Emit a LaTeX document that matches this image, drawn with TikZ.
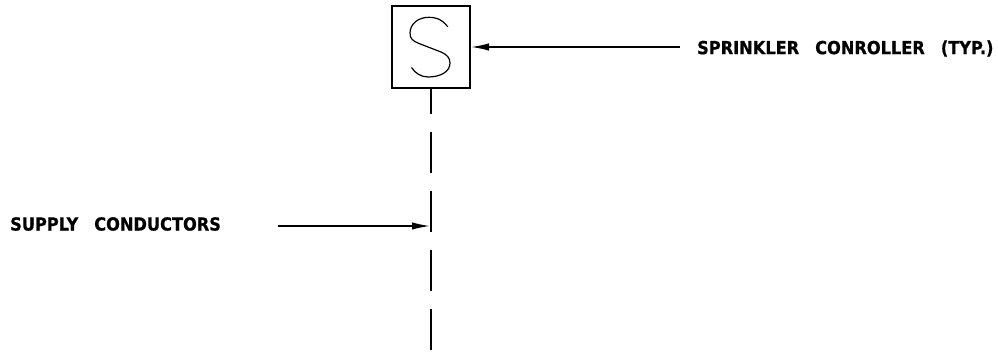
\documentclass[tikz,border=0pt]{standalone}
\usepackage{fontspec}
\newfontfamily\cadfont[FakeStretch=0.9,FakeBold=0.6]{DejaVu Sans Bold}
\usetikzlibrary{arrows.meta}
\newcommand{\wsp}{\hspace{16pt}}
\tikzset{
  x=1pt,y=-1pt,
  lbl/.style={inner sep=0pt,font=\cadfont\fontsize{18}{18}\selectfont},
  leader/.style={line width=1.6pt,-{Latex[length=18pt,width=7.5pt]}},
  ctrl/.style={draw,line width=2pt,minimum width=78pt,minimum height=82pt,inner sep=0pt},
  wire/.style={line width=2pt,dash pattern=on 25pt off 18pt on 41pt off 18pt on 41pt off 18pt on 41pt off 18pt on 41pt off 18pt on 41pt}
}
\begin{document}
\begin{tikzpicture}
\useasboundingbox (0,0) rectangle (998,352);
\node[ctrl] (box) at (431,47) {};
\draw[line width=1.2pt,line cap=round] (447.7,26.7) .. controls (441,18) and (434,17.3) .. (429,17.3)
  .. controls (418,17.3) and (410,24) .. (410,33)
  .. controls (410,39) and (413,41) .. (419,43.5)
  -- (441,52) .. controls (447,54.5) and (450,58) .. (450,63)
  .. controls (450,72) and (440,77) .. (428,77)
  .. controls (421,77) and (415,73) .. (411.7,67.7);
\node[lbl,anchor=west] (ctrlabel) at (697,48.5) {SPRINKLER\wsp CONROLLER\wsp (TYP.)};
\node[lbl,anchor=west] (supply) at (10,224) {SUPPLY\wsp CONDUCTORS};
\coordinate (wireend) at (431,350);
\coordinate (feed) at (430,226);
\draw[wire] (box.south) -- (wireend);
\draw[leader,shorten <=17pt] (box.east -| ctrlabel.west) -- (box.east);
\draw[leader,shorten <=57pt] (supply.east |- feed) -- (feed);
\end{tikzpicture}
\end{document}
